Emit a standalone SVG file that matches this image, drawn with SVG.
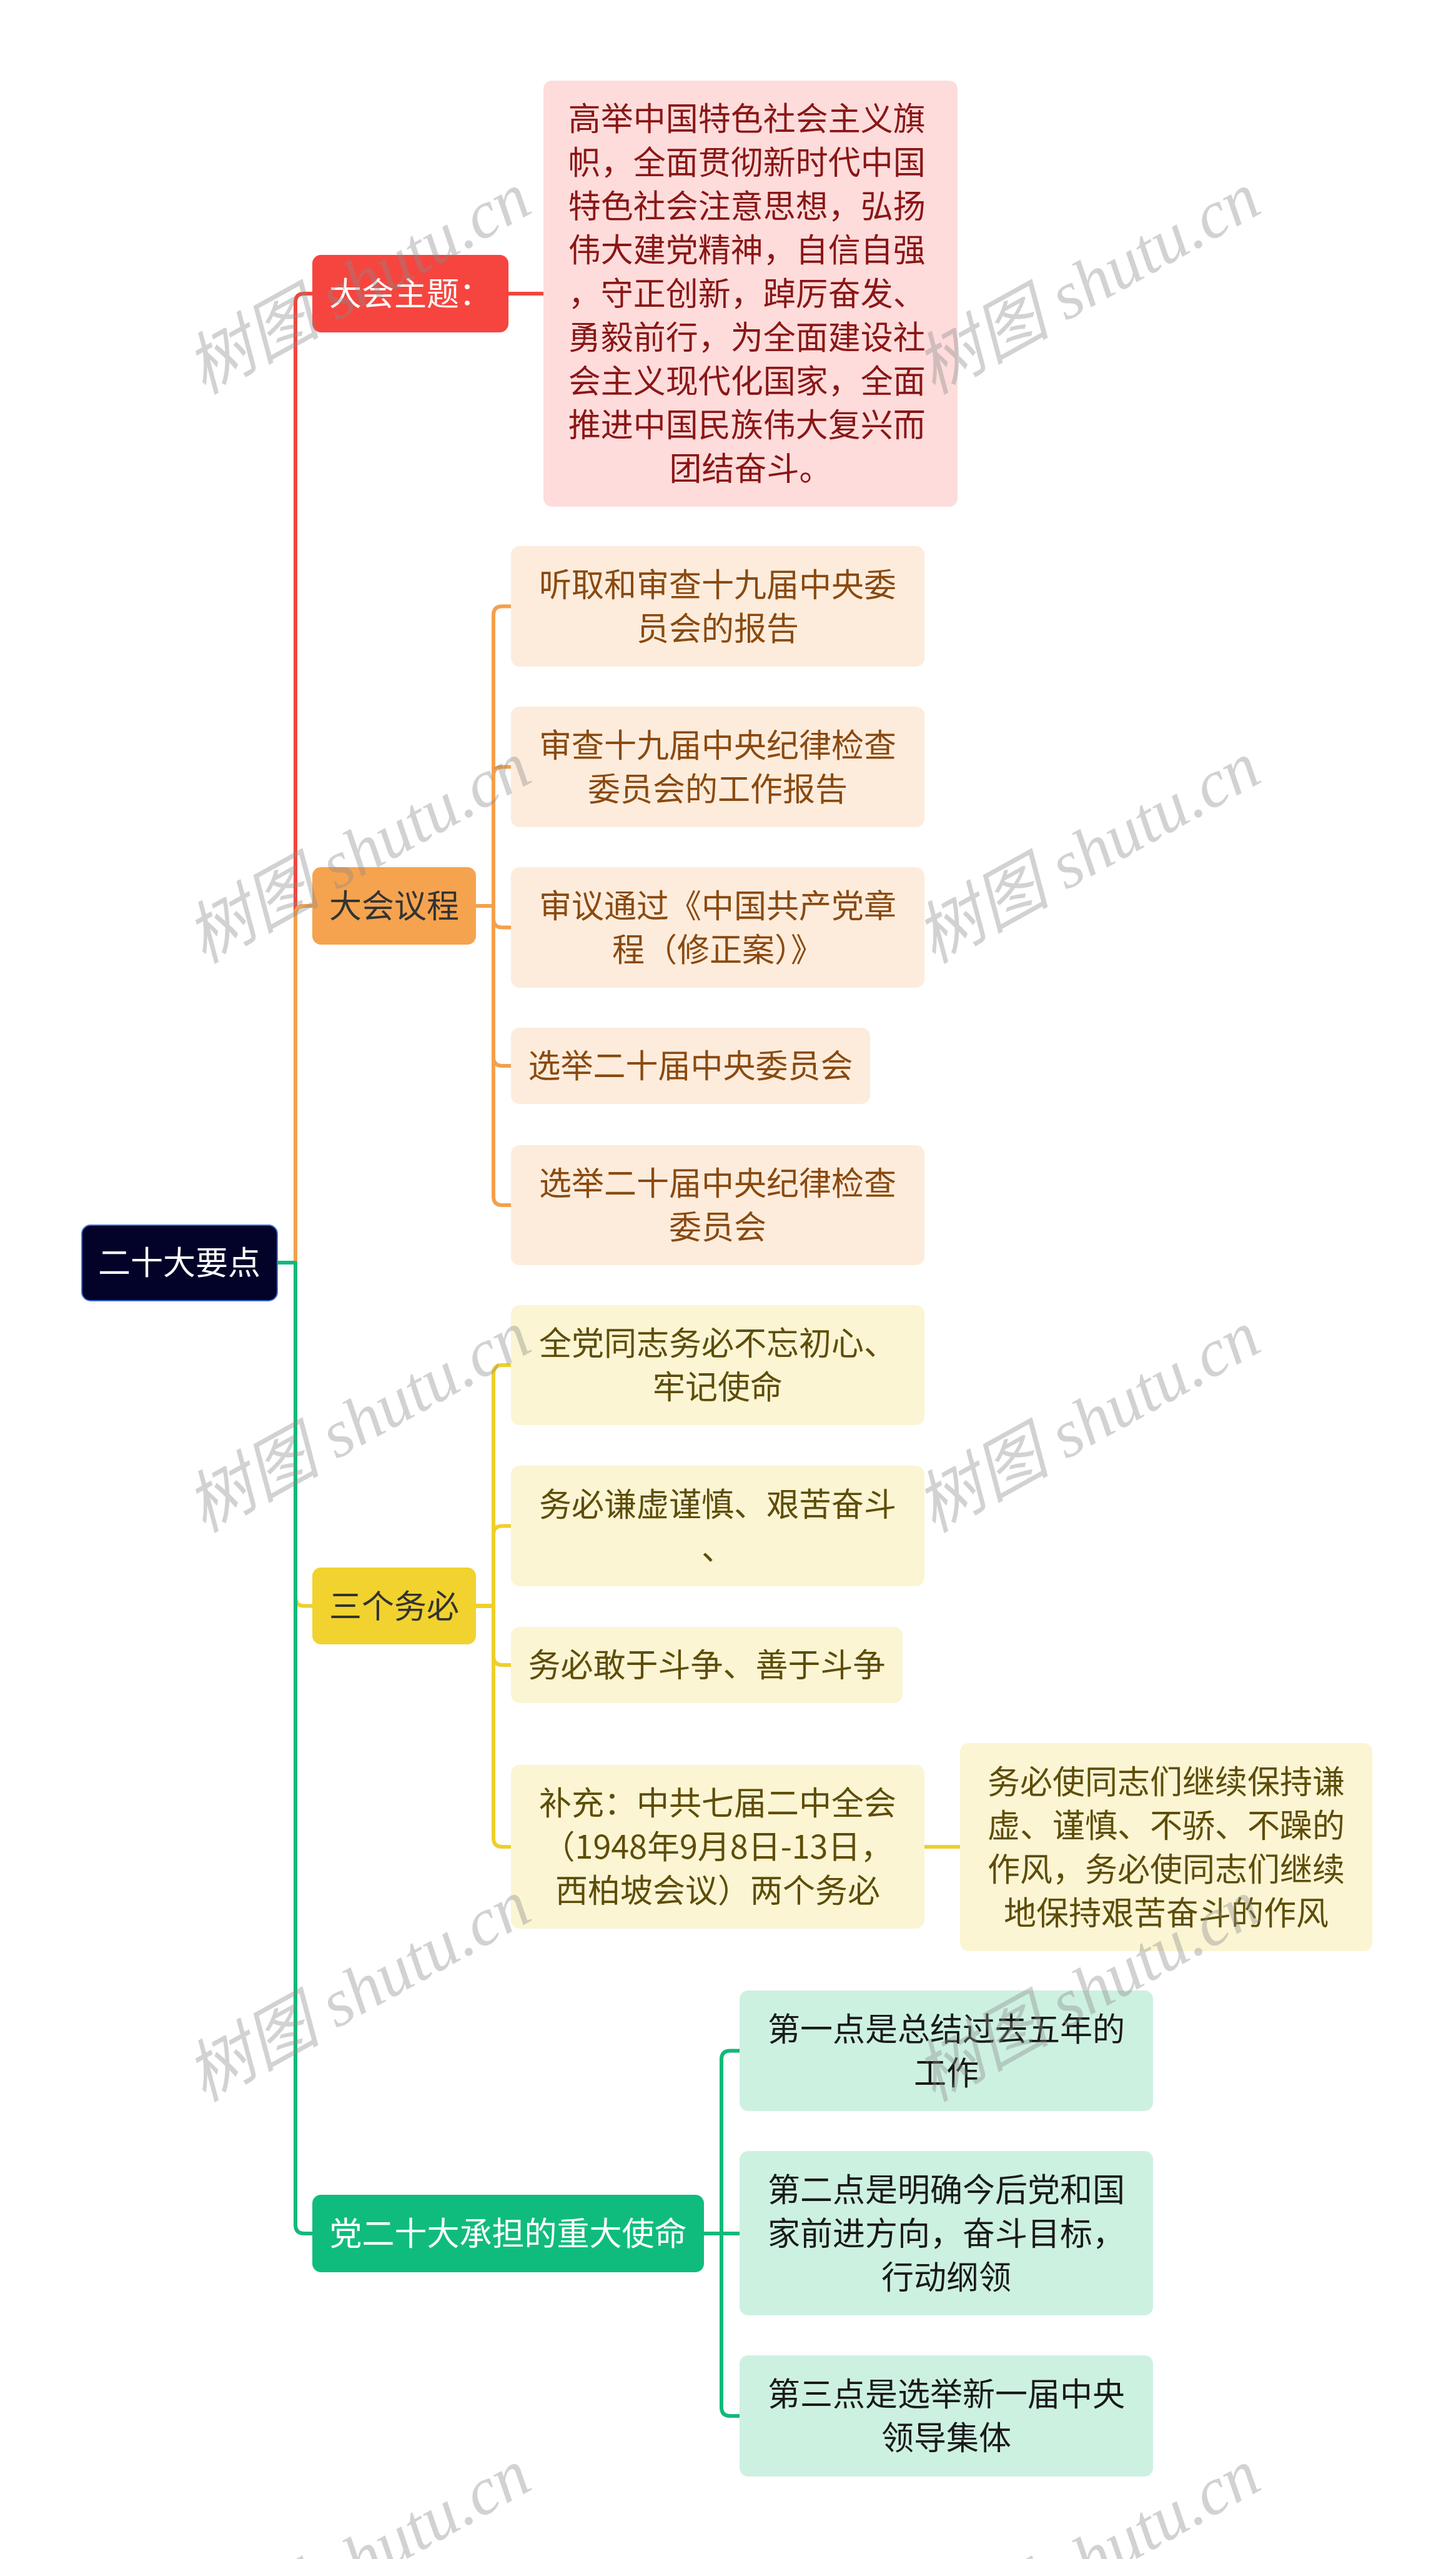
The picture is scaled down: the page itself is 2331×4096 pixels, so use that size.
<svg xmlns="http://www.w3.org/2000/svg" width="2331" height="4096" viewBox="0 0 2331 4096">
<style>
.t{font-family:"Noto Sans CJK SC","Liberation Sans",sans-serif;font-size:52px;text-anchor:middle}
.c{fill:none;stroke-width:6;stroke-linejoin:round}
.wm{font-family:"Liberation Serif","Noto Sans CJK SC",serif;font-style:italic;font-size:108px;fill:#8a8a8a;opacity:0.38}
</style>
<rect width="2331" height="4096" fill="#ffffff"/>
<g id="connectors">
<path class="c" stroke="#f0463e" d="M444,2021 H473 V484 Q473,470 487,470 H500"/>
<path class="c" stroke="#f3a04c" d="M444,2021 H473 V1464 Q473,1450 487,1450 H500"/>
<path class="c" stroke="#efcf2a" d="M444,2021 H473 V2556.5 Q473,2570.5 487,2570.5 H500"/>
<path class="c" stroke="#12b97a" d="M444,2021 H473 V3561 Q473,3575 487,3575 H500"/>
<path class="c" stroke="#f0463e" d="M814,470 H870"/>
<path class="c" stroke="#f3a04c" d="M762,1450 H790 V984.5 Q790,970.5 804,970.5 H818"/>
<path class="c" stroke="#f3a04c" d="M762,1450 H790 V1241.5 Q790,1227.5 804,1227.5 H818"/>
<path class="c" stroke="#f3a04c" d="M762,1450 H790 V1470.5 Q790,1484.5 804,1484.5 H818"/>
<path class="c" stroke="#f3a04c" d="M762,1450 H790 V1692 Q790,1706 804,1706 H818"/>
<path class="c" stroke="#f3a04c" d="M762,1450 H790 V1915 Q790,1929 804,1929 H818"/>
<path class="c" stroke="#efcf2a" d="M762,2570.5 H790 V2199 Q790,2185 804,2185 H818"/>
<path class="c" stroke="#efcf2a" d="M762,2570.5 H790 V2456.5 Q790,2442.5 804,2442.5 H818"/>
<path class="c" stroke="#efcf2a" d="M762,2570.5 H790 V2651 Q790,2665 804,2665 H818"/>
<path class="c" stroke="#efcf2a" d="M762,2570.5 H790 V2942 Q790,2956 804,2956 H818"/>
<path class="c" stroke="#efcf2a" d="M1480,2956 H1537"/>
<path class="c" stroke="#12b97a" d="M1127,3575 H1155 V3296.5 Q1155,3282.5 1169,3282.5 H1184"/>
<path class="c" stroke="#12b97a" d="M1127,3575 H1184"/>
<path class="c" stroke="#12b97a" d="M1127,3575 H1155 V3853 Q1155,3867 1169,3867 H1184"/>
</g>
<g id="root">
<rect x="131" y="1961" width="313" height="121" rx="14" fill="#03032a" stroke="#3b6fd4" stroke-width="2"/>
<text class="t" x="287" y="2040" fill="#ffffff">二十大要点</text>
</g>
<g id="n-theme">
<rect x="500" y="408" width="314" height="124" rx="14" fill="#f6453f"/>
<text class="t" x="657" y="489" fill="#ffffff">大会主题：</text>
</g>
<g id="n-theme-text">
<rect x="870" y="129" width="663" height="682" rx="14" fill="#fddcdb"/>
<text class="t" x="1201.5" y="209" fill="#8a1616">
<tspan x="1201.5" y="209">高举中国特色社会主义旗</tspan>
<tspan x="1201.5" y="279">帜，全面贯彻新时代中国</tspan>
<tspan x="1201.5" y="349">特色社会注意思想，弘扬</tspan>
<tspan x="1201.5" y="419">伟大建党精神，自信自强</tspan>
<tspan x="1201.5" y="489">，守正创新，踔厉奋发、</tspan>
<tspan x="1201.5" y="559">勇毅前行，为全面建设社</tspan>
<tspan x="1201.5" y="629">会主义现代化国家，全面</tspan>
<tspan x="1201.5" y="699">推进中国民族伟大复兴而</tspan>
<tspan x="1201.5" y="769">团结奋斗。</tspan>
</text>
</g>
<g id="n-agenda">
<rect x="500" y="1388" width="262" height="124" rx="14" fill="#f5a34f"/>
<text class="t" x="631" y="1469" fill="#333333">大会议程</text>
</g>
<g id="n-agenda-1">
<rect x="818" y="874" width="662" height="193" rx="14" fill="#fdecdc"/>
<text class="t" fill="#8a4a10"><tspan x="1149" y="954.5">听取和审查十九届中央委</tspan><tspan x="1149" y="1024.5">员会的报告</tspan></text>
</g>
<g id="n-agenda-2">
<rect x="818" y="1131" width="662" height="193" rx="14" fill="#fdecdc"/>
<text class="t" fill="#8a4a10"><tspan x="1149" y="1211.5">审查十九届中央纪律检查</tspan><tspan x="1149" y="1281.5">委员会的工作报告</tspan></text>
</g>
<g id="n-agenda-3">
<rect x="818" y="1388" width="662" height="193" rx="14" fill="#fdecdc"/>
<text class="t" fill="#8a4a10"><tspan x="1149" y="1468.5">审议通过《中国共产党章</tspan><tspan x="1149" y="1538.5">程（修正案）》</tspan></text>
</g>
<g id="n-agenda-4">
<rect x="818" y="1645" width="575" height="122" rx="14" fill="#fdecdc"/>
<text class="t" x="1105.5" y="1725" fill="#8a4a10">选举二十届中央委员会</text>
</g>
<g id="n-agenda-5">
<rect x="818" y="1833" width="662" height="192" rx="14" fill="#fdecdc"/>
<text class="t" fill="#8a4a10"><tspan x="1149" y="1913">选举二十届中央纪律检查</tspan><tspan x="1149" y="1983">委员会</tspan></text>
</g>
<g id="n-must">
<rect x="500" y="2509" width="262" height="123" rx="14" fill="#f1d22e"/>
<text class="t" x="631" y="2589.5" fill="#333333">三个务必</text>
</g>
<g id="n-must-1">
<rect x="818" y="2089" width="662" height="192" rx="14" fill="#fbf5d3"/>
<text class="t" fill="#5e4d08"><tspan x="1149" y="2169">全党同志务必不忘初心、</tspan><tspan x="1149" y="2239">牢记使命</tspan></text>
</g>
<g id="n-must-2">
<rect x="818" y="2346" width="662" height="193" rx="14" fill="#fbf5d3"/>
<text class="t" fill="#5e4d08"><tspan x="1149" y="2426.5">务必谦虚谨慎、艰苦奋斗</tspan><tspan x="1149" y="2496.5">、</tspan></text>
</g>
<g id="n-must-3">
<rect x="818" y="2604" width="627" height="122" rx="14" fill="#fbf5d3"/>
<text class="t" x="1131.5" y="2684" fill="#5e4d08">务必敢于斗争、善于斗争</text>
</g>
<g id="n-must-4">
<rect x="818" y="2825" width="662" height="262" rx="14" fill="#fbf5d3"/>
<text class="t" fill="#5e4d08"><tspan x="1149" y="2905">补充：中共七届二中全会</tspan><tspan x="1149" y="2975">（1948年9月8日-13日，</tspan><tspan x="1149" y="3045">西柏坡会议）两个务必</tspan></text>
</g>
<g id="n-must-4-1">
<rect x="1537" y="2790" width="660" height="333" rx="14" fill="#fbf5d3"/>
<text class="t" fill="#5e4d08"><tspan x="1867" y="2870.5">务必使同志们继续保持谦</tspan><tspan x="1867" y="2940.5">虚、谨慎、不骄、不躁的</tspan><tspan x="1867" y="3010.5">作风，务必使同志们继续</tspan><tspan x="1867" y="3080.5">地保持艰苦奋斗的作风</tspan></text>
</g>
<g id="n-mission">
<rect x="500" y="3513" width="627" height="124" rx="14" fill="#10bc7d"/>
<text class="t" x="813.5" y="3594" fill="#ffffff">党二十大承担的重大使命</text>
</g>
<g id="n-mission-1">
<rect x="1184" y="3186" width="662" height="193" rx="14" fill="#cdf1e1"/>
<text class="t" fill="#1a1a1a"><tspan x="1515" y="3266.5">第一点是总结过去五年的</tspan><tspan x="1515" y="3336.5">工作</tspan></text>
</g>
<g id="n-mission-2">
<rect x="1184" y="3443" width="662" height="263" rx="14" fill="#cdf1e1"/>
<text class="t" fill="#1a1a1a"><tspan x="1515" y="3523.5">第二点是明确今后党和国</tspan><tspan x="1515" y="3593.5">家前进方向，奋斗目标，</tspan><tspan x="1515" y="3663.5">行动纲领</tspan></text>
</g>
<g id="n-mission-3">
<rect x="1184" y="3770" width="662" height="194" rx="14" fill="#cdf1e1"/>
<text class="t" fill="#1a1a1a"><tspan x="1515" y="3851">第三点是选举新一届中央</tspan><tspan x="1515" y="3921">领导集体</tspan></text>
</g>
<g id="watermarks">
<text class="wm" transform="translate(326,632) rotate(-29)">树图 shutu.cn</text>
<text class="wm" transform="translate(1494,632) rotate(-29)">树图 shutu.cn</text>
<text class="wm" transform="translate(326,1543) rotate(-29)">树图 shutu.cn</text>
<text class="wm" transform="translate(1494,1543) rotate(-29)">树图 shutu.cn</text>
<text class="wm" transform="translate(326,2454) rotate(-29)">树图 shutu.cn</text>
<text class="wm" transform="translate(1494,2454) rotate(-29)">树图 shutu.cn</text>
<text class="wm" transform="translate(326,3365) rotate(-29)">树图 shutu.cn</text>
<text class="wm" transform="translate(1494,3365) rotate(-29)">树图 shutu.cn</text>
<text class="wm" transform="translate(326,4276) rotate(-29)">树图 shutu.cn</text>
<text class="wm" transform="translate(1494,4276) rotate(-29)">树图 shutu.cn</text>
</g>
</svg>
